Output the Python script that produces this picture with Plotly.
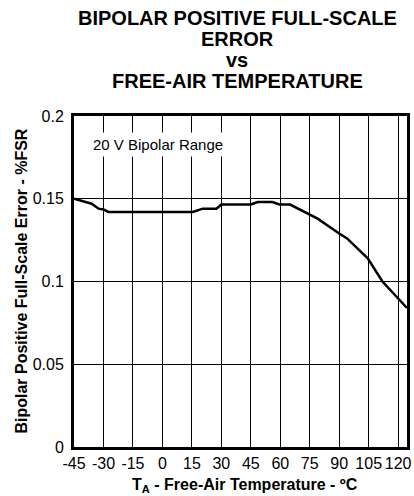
import plotly.graph_objects as go

# values
temp_c = [-45, -36, -32.5, -30, -27.5, 15.5, 20.5, 27.5, 30, 45, 48.5, 56, 59.5, 65,
          79, 86, 90, 94, 104.5, 112, 124.5]
error_fsr = [0.150, 0.147, 0.144, 0.1435, 0.142, 0.142, 0.144, 0.144, 0.1465, 0.1465,
             0.148, 0.148, 0.1465, 0.1465, 0.138, 0.132, 0.129, 0.126, 0.114, 0.100, 0.084]
x_ticks = [-45, -30, -15, 0, 15, 30, 45, 60, 75, 90, 105, 120]
x_labels = ["-45", "-30", "-15", "0", "15", "30", "45", "60", "75", "90", "105", "120"]
y_ticks = [0, 0.05, 0.1, 0.15, 0.2]
y_labels = ["0", "0.05", "0.1", "0.15", "0.2"]
title_lines = ["BIPOLAR POSITIVE FULL-SCALE", "ERROR", "vs", "FREE-AIR TEMPERATURE"]

FONT = "Liberation Sans, Arial, sans-serif"

fig = go.Figure()
fig.add_trace(go.Scatter(x=temp_c, y=error_fsr, mode='lines',
                         line=dict(color='black', width=2.5), showlegend=False))

# title, one annotation per line to keep the tight line spacing
title_y = [1.297, 1.233, 1.170, 1.107]
for txt, yy in zip(title_lines, title_y):
    fig.add_annotation(text="<b>%s</b>" % txt, xref='paper', yref='paper', x=0.49, y=yy,
                       xanchor='center', yanchor='middle', showarrow=False,
                       font=dict(family=FONT, size=20, color='black'))

fig.add_annotation(text="20 V Bipolar Range", xref='paper', yref='paper', x=0.045, y=0.914,
                   xanchor='left', yanchor='middle', showarrow=False, bgcolor='white',
                   borderpad=3, font=dict(family=FONT, size=15, color='black'))

fig.add_annotation(text="<b>Bipolar Positive Full-Scale Error - %FSR</b>", textangle=-90,
                   xref='paper', yref='paper', x=-0.159, y=0.5, xanchor='center', yanchor='middle',
                   showarrow=False, font=dict(family=FONT, size=16, color='black'))
fig.add_annotation(text="<b>T<sub>A</sub> - Free-Air Temperature - ºC</b>",
                   xref='paper', yref='paper', x=0.513, y=-0.115, xanchor='center', yanchor='middle',
                   showarrow=False, font=dict(family=FONT, size=16, color='black'))

fig.update_xaxes(range=[-45, 124.5], tickvals=x_ticks, ticktext=x_labels, tickangle=0,
                 automargin=False, showgrid=True, gridcolor='black', gridwidth=1,
                 showline=True, linecolor='black', linewidth=3, mirror=True, zeroline=False,
                 ticks='', tickfont=dict(family=FONT, size=16, color='black'))
fig.update_yaxes(range=[0, 0.2], tickvals=y_ticks, ticktext=y_labels, automargin=False,
                 showgrid=True, gridcolor='black', gridwidth=1,
                 showline=True, linecolor='black', linewidth=3, mirror=True, zeroline=False,
                 ticks='', ticklabelstandoff=4, tickfont=dict(family=FONT, size=16, color='black'))

fig.update_layout(width=414, height=496, margin=dict(l=74, r=7, t=116, b=49),
                  plot_bgcolor='white', paper_bgcolor='white', font=dict(family=FONT))

fig.write_html("out.html", config={'displayModeBar': False},
               post_script="document.body.style.margin='0';")
